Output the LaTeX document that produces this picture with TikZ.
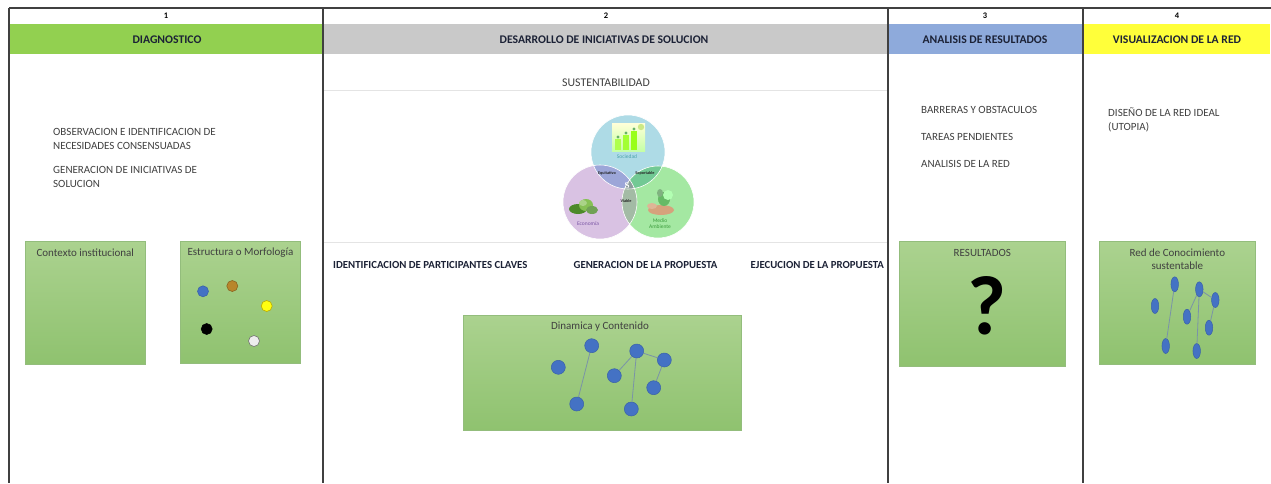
\documentclass[tikz,border=0pt]{standalone}
\usepackage{fontspec}
\setmainfont{Carlito}
\newfontfamily\vennserif{Liberation Serif}
\usetikzlibrary{shapes.geometric}
\definecolor{framec}{HTML}{404040}
\definecolor{hgreen}{HTML}{92D050}
\definecolor{hgray}{HTML}{C9C9C9}
\definecolor{hblue}{HTML}{8EAADB}
\definecolor{hyellow}{HTML}{FFFF3A}
\definecolor{navy}{HTML}{1C2236}
\definecolor{txtgray}{HTML}{404040}
\definecolor{gtop}{HTML}{ABD28F}
\definecolor{gbot}{HTML}{8FC26F}
\definecolor{gedge}{HTML}{93BD7C}
\definecolor{netblue}{HTML}{4472C4}
\definecolor{netedge}{HTML}{3A62A8}
\definecolor{linkc}{HTML}{7A93A8}
\definecolor{faint}{HTML}{E4E4E4}
\definecolor{ctop}{HTML}{AEDBE6}
\definecolor{cleft}{HTML}{D9C2E3}
\definecolor{cright}{HTML}{A4E8A2}
\definecolor{ctl}{HTML}{9CA6D8}
\definecolor{ctr}{HTML}{72C994}
\definecolor{clr}{HTML}{A3BBA5}
\definecolor{cmid}{HTML}{8C9E9C}
\definecolor{dbrown}{HTML}{B8862B}
\definecolor{dbrownE}{HTML}{8A6420}
\definecolor{dyellow}{HTML}{FFFF10}
\definecolor{dyellowE}{HTML}{B8A800}
\definecolor{socc}{HTML}{4AA3AC}
\definecolor{ecoc}{HTML}{7A55A5}
\definecolor{medc}{HTML}{3C9C3C}
\definecolor{leafd}{HTML}{4C8A2A}
\definecolor{leafl}{HTML}{86C055}
\definecolor{tan}{HTML}{D6A27C}
\begin{document}
\begin{tikzpicture}[x=1pt,y=-1pt,
  frame/.style={draw=framec,line width=1.3pt},
  num/.style={font=\fontsize{8.5}{9}\selectfont\bfseries,text=black},
  hdr/.style={font=\fontsize{11.7}{12}\selectfont\bfseries,text=navy},
  body/.style={font=\fontsize{11}{14}\selectfont,text=txtgray,align=left,anchor=west,inner sep=0},
  step2/.style={font=\fontsize{10.8}{12}\selectfont\bfseries,text=navy,anchor=west,inner sep=0},
  gbox/.style={draw=gedge,line width=0.6pt,top color=gtop,bottom color=gbot},
  boxtitle/.style={font=\fontsize{11}{13.5}\selectfont,text=black!75,align=center},
  dotn/.style={circle,minimum size=11pt,inner sep=0,line width=0.6pt},
  netc/.style={circle,fill=netblue,draw=netedge,line width=0.5pt,minimum width=13pt,minimum height=14pt,inner sep=0},
  nete/.style={ellipse,fill=netblue,draw=netedge,line width=0.5pt,minimum width=7.5pt,minimum height=15pt,inner sep=0},
  link/.style={draw=linkc,line width=0.8pt},
  vlab/.style={font=\fontsize{4.2}{5}\selectfont\bfseries,text=black!85,inner sep=0},
  vname/.style={font=\fontsize{5.5}{6}\selectfont,inner sep=0,align=center}]
\useasboundingbox (0,0) rectangle (1271,483);
\fill[white] (0,0) rectangle (1271,483);
% header bands
\fill[hgreen] (9,23.5) rectangle (323,54.3);
\fill[hgray] (323,23.5) rectangle (888,54.3);
\fill[hblue] (888,23.5) rectangle (1083,54.3);
\fill[hyellow] (1083,23.5) rectangle (1270,54.3);
% faint rules in column 2
\draw[faint,line width=0.8pt] (323,90) -- (888,90);
\draw[faint,line width=0.8pt] (323,242) -- (888,242);
% frame
\draw[frame] (9,8) -- (1271,8);
\draw[frame] (9,8) -- (9,483);
\draw[frame] (323,8) -- (323,483);
\draw[frame] (888,8) -- (888,483);
\draw[frame] (1083,8) -- (1083,483);
% numbers
\node[num] (n1lab) at (166,16) {1};
\node[num] (n2lab) at (606,16) {2};
\node[num] (n3lab) at (985,16) {3};
\node[num] (n4lab) at (1177,16) {4};
% headers
\node[hdr] (h1) at (167,39.5) {DIAGNOSTICO};
\node[hdr] (h2) at (604,39.5) {DESARROLLO DE INICIATIVAS DE SOLUCION};
\node[hdr] (h3) at (985,39.5) {ANALISIS DE RESULTADOS};
\node[hdr] (h4) at (1177,39.5) {VISUALIZACION DE LA RED};
% ---------- column 1
\node[body] (t11) at (53,138.5) {OBSERVACION E IDENTIFICACION DE\\NECESIDADES CONSENSUADAS};
\node[body] (t12) at (53,176.5) {GENERACION DE INICIATIVAS DE\\SOLUCION};
\path[gbox] (25.7,241) rectangle (145,364.3);
\path[gbox] (180.3,241) rectangle (300.7,363.3);
\node[boxtitle] (b1t) at (85.3,252.5) {Contexto institucional};
\node[boxtitle] (b2t) at (240.5,252.5) {Estructura o Morfología};
\node[dotn,fill=netblue,draw=netedge] (d1) at (203,291.3) {};
\node[dotn,fill=dbrown,draw=dbrownE] (d2) at (232.3,286) {};
\node[dotn,fill=dyellow,draw=dyellowE] (d3) at (266.7,306) {};
\node[dotn,fill=black,draw=black] (d4) at (206.7,329) {};
\node[dotn,fill=white!93!black,draw=black!55] (d5) at (254,341) {};
% ---------- column 2
\node[font=\fontsize{11.8}{12}\selectfont,text=txtgray] (sus) at (606,83) {SUSTENTABILIDAD};
% Venn
\coordinate (VT) at (628,152);
\coordinate (VL) at (600,202);
\coordinate (VR) at (658,202);
\fill[ctop] (VT) circle (37);
\fill[cleft] (VL) circle (37);
\fill[cright] (VR) circle (36);
\begin{scope}\clip (VT) circle (37); \fill[ctl] (VL) circle (37); \end{scope}
\begin{scope}\clip (VT) circle (37); \fill[ctr] (VR) circle (36); \end{scope}
\begin{scope}\clip (VL) circle (37); \fill[clr] (VR) circle (36); \end{scope}
\begin{scope}\clip (VT) circle (37); \clip (VL) circle (37); \fill[cmid] (VR) circle (36); \end{scope}
\draw[white,line width=0.6pt] (VT) circle (37) (VL) circle (37) (VR) circle (36);
% top picture (coins with plants)
\shade[top color=white!85!yellow,bottom color=yellow!35!green!35] (612,123) rectangle (645,151);
\fill[green!45!yellow!70] (615,139) rectangle (621,150);
\fill[green!45!yellow!80] (623,135) rectangle (629,150);
\fill[green!45!yellow!90] (631,131) rectangle (637,150);
\fill[green!50!black!60] (618,137) circle (1.6) (626,133) circle (1.6) (634,129) circle (1.6);
\fill[yellow!60!green!50] (641,127) circle (3.2);
% cabbage
\fill[leafd] (578,209) ellipse (9 and 5);
\fill[leafl] (586,205) ellipse (7 and 6);
\fill[leafd!80!white] (592,210) ellipse (6 and 4);
\fill[leafl!70!white] (583,203) ellipse (4 and 3);
% hand with plant
\fill[tan] (661,210) ellipse (13 and 5);
\fill[tan!80!white] (652,206) ellipse (5 and 3);
\fill[green!55!black!60] (664,199) ellipse (6 and 7);
\fill[green!30!white] (668,195) ellipse (5 and 5);
\fill[green!40!black!50] (660,193) ellipse (3 and 4);
% Venn labels
\node[vname,text=socc] (soc) at (627,157) {Sociedad};
\node[vlab] (equ) at (607,173) {Equitativo};
\node[vlab] (sop) at (645,173) {Soportable};
\node[font=\vennserif\fontsize{9}{9}\selectfont\bfseries,text=white,inner sep=0] (sS) at (627,186) {S};
\node[vlab] (via) at (626,201) {Viable};
\node[vname,text=ecoc] (eco) at (588,224) {Economía};
\node[vname,text=medc] (med) at (660,224) {Medio\\Ambiente};
% step labels
\node[step2] (s1) at (333,265) {IDENTIFICACION DE PARTICIPANTES CLAVES};
\node[step2] (s2) at (573.5,265) {GENERACION DE LA PROPUESTA};
\node[step2] (s3) at (750.5,265) {EJECUCION DE LA PROPUESTA};
% Dinamica box
\path[gbox] (463.3,315) rectangle (741,430.7);
\node[boxtitle] (b3t) at (600,327) {Dinamica y Contenido};
\node[netc] (a1) at (558.3,367.3) {};
\node[netc] (a2) at (591.7,345.7) {};
\node[netc] (a3) at (576.7,404) {};
\node[netc] (a4) at (614.3,375.7) {};
\node[netc] (a5) at (636.7,351) {};
\node[netc] (a6) at (664.3,360) {};
\node[netc] (a7) at (653.7,387.7) {};
\node[netc] (a8) at (631.3,409) {};
\draw[link] (a2) -- (a3);
\draw[link] (a4) -- (a5);
\draw[link] (a5) -- (a8);
\draw[link] (a5) -- (a6);
\draw[link] (a6) -- (a7);
% ---------- column 3
\node[body] (t31) at (921,110) {BARRERAS Y OBSTACULOS};
\node[body] (t32) at (921,137) {TAREAS PENDIENTES};
\node[body] (t33) at (921,164) {ANALISIS DE LA RED};
\path[gbox] (899,241.7) rectangle (1065.7,366.7);
\node[boxtitle] (b4t) at (982.3,252.5) {RESULTADOS};
\node[font=\fontsize{84}{84}\selectfont\bfseries,text=black,inner sep=0] (qm) at (987,306) {?};
% ---------- column 4
\node[body] (t41) at (1108,119.5) {DISEÑO DE LA RED IDEAL\\(UTOPIA)};
\path[gbox] (1099,241.7) rectangle (1255.7,364);
\node[boxtitle] (b5t) at (1177.3,259) {Red de Conocimiento\\sustentable};
\node[nete] (m1) at (1155,306) {};
\node[nete] (m2) at (1174.7,284.3) {};
\node[nete] (m3) at (1165.7,346) {};
\node[nete] (m4) at (1187,316.7) {};
\node[nete] (m5) at (1199.3,289.3) {};
\node[nete] (m6) at (1215.3,300) {};
\node[nete] (m7) at (1209,327.7) {};
\node[nete] (m8) at (1196.7,351) {};
\draw[link] (m2) -- (m3);
\draw[link] (m4) -- (m5);
\draw[link] (m5) -- (m8);
\draw[link] (m5) -- (m6);
\draw[link] (m6) -- (m7);
\end{tikzpicture}
\end{document}
